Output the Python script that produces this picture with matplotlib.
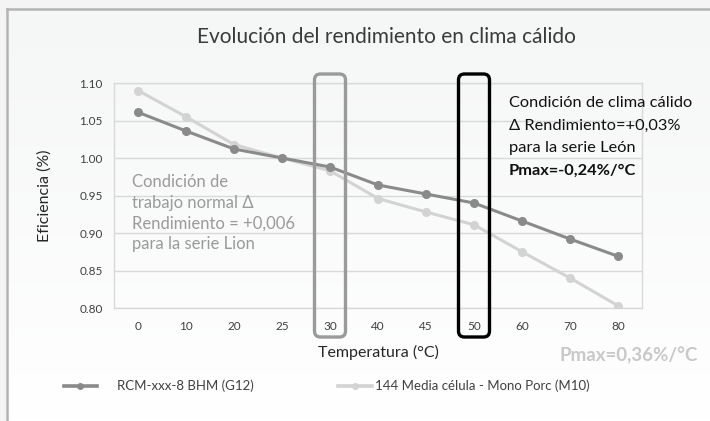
import numpy as np
import matplotlib
matplotlib.use("Agg")
import matplotlib.pyplot as plt
from matplotlib.patches import FancyBboxPatch
from matplotlib.lines import Line2D
from matplotlib.transforms import IdentityTransform

plt.rcParams['font.family'] = ['Lato', 'DejaVu Sans']

# data
temps = ['0', '10', '20', '25', '30', '40', '45', '50', '60', '70', '80']
rcm_g12 = [1.061, 1.036, 1.012, 1.000, 0.988, 0.964, 0.952, 0.940, 0.916, 0.892, 0.869]
media_m10 = [1.090, 1.055, 1.018, 1.000, 0.983, 0.946, 0.928, 0.911, 0.875, 0.840, 0.803]
y_ticks = [0.80, 0.85, 0.90, 0.95, 1.00, 1.05, 1.10]
series_names = ['RCM-xxx-8 BHM (G12)', '144 Media célula - Mono Porc (M10)']
highlight_temps = ['30', '50']

W, H = 710, 421
fig = plt.figure(figsize=(W / 100, H / 100), dpi=100)
fig.patch.set_facecolor('#f4f4f4')

# background panel with soft vertical gradient
bg = fig.add_axes([7 / W, 0, 1 - 7 / W, 1 - 9 / H])
grad = np.linspace(1.0, 0.0, 256).reshape(-1, 1)
bg.imshow(grad, aspect='auto', cmap=matplotlib.colors.LinearSegmentedColormap.from_list(
    'bgc', ['#ffffff', '#f5f6f6']), extent=[0, 1, 0, 1])
bg.set_axis_off()
fig.add_artist(Line2D([7 / W, 7 / W], [0, 1 - 9 / H], color='#b4b4b4', lw=1.8))
fig.add_artist(Line2D([7 / W, 1], [1 - 9 / H, 1 - 9 / H], color='#b4b4b4', lw=1.8))

ax = fig.add_axes([114 / W, 1 - 308 / H, 528 / W, 225 / H])
ax.set_facecolor('none')
x = np.arange(len(temps))
dark, light = '#8a8a8a', '#d3d3d3'
ax.plot(x, rcm_g12, color=dark, lw=2.2, marker='o', ms=5.5, zorder=4)
ax.plot(x, media_m10, color=light, lw=2.2, marker='o', ms=5.5, zorder=3)

ax.set_xlim(-0.5, len(temps) - 0.5)
ax.set_ylim(0.80, 1.10)
ax.set_yticks(y_ticks)
ax.set_yticklabels(['%.2f' % v for v in y_ticks])
ax.set_xticks(x)
ax.set_xticklabels(temps)
ax.tick_params(length=0, labelsize=8.5, colors='#404040', pad=8)
ax.tick_params(axis='x', pad=9)
ax.grid(axis='y', color='#d9d9d9', lw=1)
ax.set_axisbelow(True)
for s in ax.spines.values():
    s.set_color('#d9d9d9')
    s.set_linewidth(1)

ax.set_xlabel('Temperatura (°C)', fontsize=11.5, color='#262626', labelpad=10)
ax.set_ylabel('Eficiencia (%)', fontsize=11.5, color='#262626', labelpad=20)

fig.text(386 / W, 1 - 37 / H, 'Evolución del rendimiento en clima cálido',
         ha='center', va='center', fontsize=15, color='#3a3a3a')

# left annotation
ax.text(0.035, 0.595, 'Condición de\ntrabajo normal Δ\nRendimiento = +0,006\npara la serie Lion',
        transform=ax.transAxes, ha='left', va='top', fontsize=12, color='#9a9a9a',
        linespacing=1.35)

# right annotation, one line at a time
right_lines = ['Condición de clima cálido', 'Δ Rendimiento=+0,03%',
               'para la serie León', 'Pmax=-0,24%/°C']
for i, line in enumerate(right_lines):
    fig.text(509 / W, 1 - (103 + 22.5 * i) / H, line, ha='left', va='center',
             fontsize=11.8, color='#111111',
             fontweight='bold' if i == 3 else 'normal')

fig.text(698 / W, 1 - 355 / H, 'Pmax=0,36%/°C', ha='right', va='center',
         fontsize=13.5, color='#c8c8c8', fontweight='bold')

# highlight boxes around 30 and 50 degC
fig.canvas.draw()
ax_box = ax.get_window_extent()
for t, col in zip(highlight_temps, ['#9a9a9a', '#000000']):
    cx = ax.transData.transform((temps.index(t), 0))[0]
    top = ax_box.y1 + 9
    bot = ax_box.y0 - 29
    bw = 31
    box = FancyBboxPatch((cx - bw / 2, bot), bw, top - bot,
                         boxstyle='round,pad=0,rounding_size=6',
                         fc='none', ec=col, lw=2.4, transform=IdentityTransform(), zorder=6)
    fig.add_artist(box)

# legend
fig.legend([Line2D([], [], color=dark, lw=2.6, marker='o', ms=4)], [series_names[0]],
           loc='center left', bbox_to_anchor=(52 / W, 1 - 386 / H), frameon=False,
           fontsize=9.5, handlelength=2.5, handletextpad=1.5, labelcolor='#404040')
fig.legend([Line2D([], [], color=light, lw=2.6, marker='o', ms=4)], [series_names[1]],
           loc='center left', bbox_to_anchor=(326 / W, 1 - 386 / H), frameon=False,
           fontsize=9.5, handlelength=2.6, handletextpad=0.2, labelcolor='#404040')

fig.savefig('out.png', dpi=100)
